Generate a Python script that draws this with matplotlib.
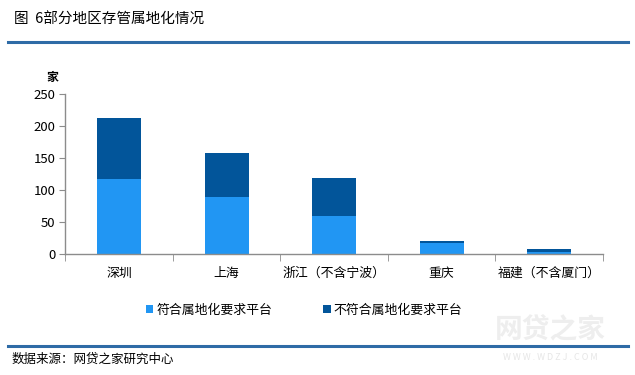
import matplotlib
matplotlib.use("Agg")
import matplotlib.pyplot as plt
import numpy as np

plt.rcParams['font.family'] = ['Noto Sans CJK SC', 'DejaVu Sans']

categories = ["深圳", "上海", "浙江（不含宁波）", "重庆", "福建（不含厦门）"]
compliant = [118, 90, 60, 18, 4]
noncompliant = [95, 68, 59, 3, 4]
series_names = ["符合属地化要求平台", "不符合属地化要求平台"]
yticks = [0, 50, 100, 150, 200, 250]

light = "#2196F3"
dark = "#02559A"
rule = "#2E6BA6"
axis_gray = "#8C8C8C"

fig = plt.figure(figsize=(6.35, 3.75), dpi=100)
ax = fig.add_axes([0.1028, 0.3219, 0.8468, 0.4274])

x = np.arange(len(categories))
b1 = ax.bar(x, compliant, width=0.41, color=light, label=series_names[0])
b2 = ax.bar(x, noncompliant, width=0.41, bottom=compliant, color=dark, label=series_names[1])

ax.set_xlim(-0.5, len(categories) - 0.5)
ax.set_ylim(0, 250)
ax.set_yticks(yticks)
ax.set_yticklabels([str(v) for v in yticks], fontsize=9.5)
ax.set_xticks(x)
ax.set_xticklabels(categories, fontsize=9.3)
ax.tick_params(axis='x', length=0, pad=9)
ax.set_xticks(np.arange(len(categories) + 1) - 0.5, minor=True)
ax.tick_params(axis='x', which='minor', length=5, color=axis_gray, direction='out')
ax.tick_params(axis='y', length=4, color=axis_gray, direction='out', pad=3)
for s in ['top', 'right']:
    ax.spines[s].set_visible(False)
for s in ['left', 'bottom']:
    ax.spines[s].set_color(axis_gray)
    ax.spines[s].set_linewidth(1.0)

fig.text(52 / 635, 1 - 77 / 375, "家", fontsize=8.5, ha='center', va='center', weight='bold')

fig.text(14 / 635, 1 - 20 / 375, "图  6部分地区存管属地化情况", fontsize=10.5, ha='left', va='center')
fig.add_artist(plt.Line2D([8 / 635, 628 / 635], [1 - 42 / 375] * 2, color=rule, lw=2.2))
fig.add_artist(plt.Line2D([8 / 635, 628 / 635], [1 - 346 / 375] * 2, color=rule, lw=2.2))
fig.text(12 / 635, 1 - 359 / 375, "数据来源：网贷之家研究中心", fontsize=9, ha='left', va='center')

# watermark
fig.text(550 / 635, 1 - 330 / 375, "网贷之家", fontsize=20, ha='center', va='center',
         color='#EEEEEE', weight='bold', zorder=-1)
fig.text(550 / 635, 1 - 358 / 375, "W W W . W D Z J . C O M", fontsize=6.5, ha='center', va='center',
         color='#E6E6E6', zorder=-1)

leg = fig.legend(handles=[b1, b2], labels=series_names, loc='center',
                 bbox_to_anchor=(304 / 635, 1 - 310 / 375),
                 ncol=2, frameon=False, fontsize=9.3, handlelength=0.6, handleheight=0.6,
                 handletextpad=0.25, columnspacing=3.9)

fig.savefig("out.png", dpi=100)
